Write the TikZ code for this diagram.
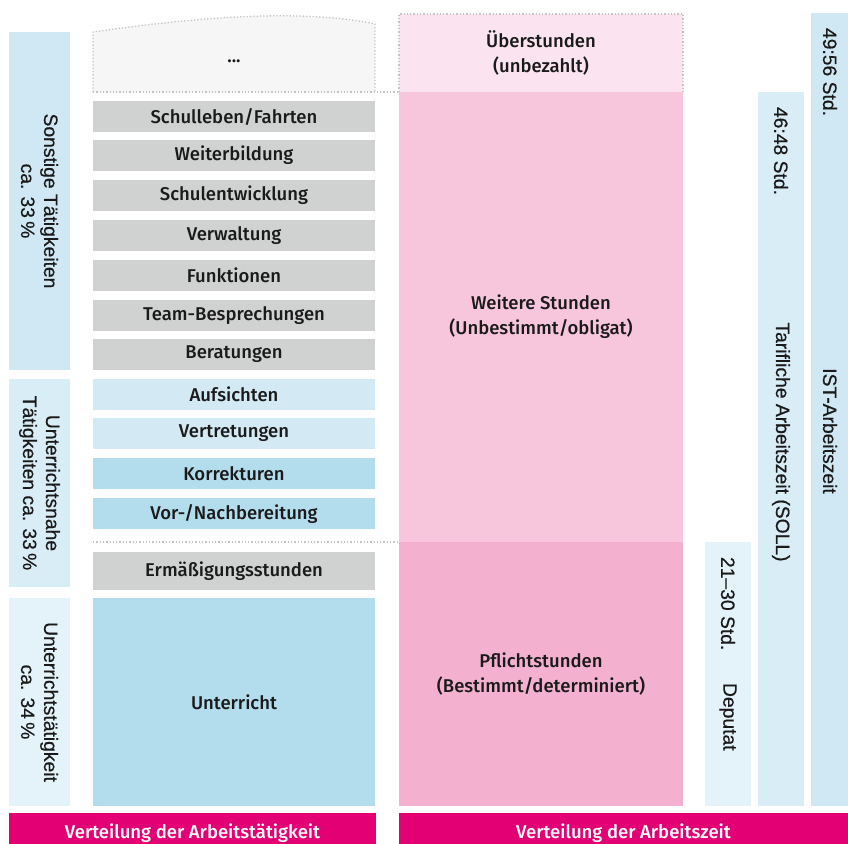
\documentclass[tikz,border=0pt]{standalone}
\usepackage{fontspec}
\setmainfont{Fira Sans Medium}
\newfontfamily\sidefont{Liberation Sans}[FakeBold=0.5]
\usepackage{tikz}

\definecolor{ink}{HTML}{1A1A1A}
\definecolor{actgrey}{HTML}{D0D1D1}
\definecolor{nearblue}{HTML}{D3E9F4}
\definecolor{teachblue}{HTML}{B3DCEC}
\definecolor{lblA}{HTML}{D0E8F3}
\definecolor{lblB}{HTML}{D9EDF7}
\definecolor{lblC}{HTML}{E4F2F9}
\definecolor{overpink}{HTML}{FBE4EF}
\definecolor{extrapink}{HTML}{F8C6DC}
\definecolor{dutypink}{HTML}{F3B1CF}
\definecolor{magenta}{HTML}{E20074}
\definecolor{dotgrey}{HTML}{C4C4C4}
\definecolor{ghost}{HTML}{F6F6F6}

\begin{document}
\begin{tikzpicture}[x=1pt,y=-1pt,
  every node/.style={inner sep=0pt,outer sep=0pt,text=ink,align=center,
    font=\fontsize{18.5}{25}\selectfont},
  act/.style={fill=actgrey,minimum width=282pt,minimum height=31pt},
  near/.style={act,fill=nearblue},
  teach/.style={act,fill=teachblue},
  sidelbl/.style={rotate=-90,font=\sidefont\fontsize{19.3}{23}\selectfont},
  colbox/.style={sidelbl,minimum height=61pt},
  timebar/.style={rotate=-90,minimum height=46pt},
  pinkbox/.style={minimum width=284pt},
  footer/.style={fill=magenta,text=white,minimum height=40pt},
  dots/.style={draw=dotgrey,line width=1.3pt,dash pattern=on 1.3pt off 2pt}]
\useasboundingbox (0,0) rectangle (848,843);

% left labels
\node[colbox,fill=lblA,minimum width=338pt] (other) at (39.5,201) {Sonstige T\"atigkeiten\\ca. 33\,\%};
\node[colbox,fill=lblB,minimum width=208pt] (near) at (39.5,483) {Unterrichtsnahe\\T\"atigkeiten ca. 33\,\%};
\node[colbox,fill=lblC,minimum width=208pt] (teach) at (39.5,702) {Unterrichtst\"atigkeit\\ca. 34\,\%};

% activities
\draw[dots,fill=ghost] (93,92) -- (93,32) .. controls (190,18) and (300,8) .. (375,24) -- (375,92);
\node (more) at (234,61) {...};
\node[act] (trips) at (234,116.5) {Schulleben/Fahrten};
\node[act] (training) at (234,155.5) {Weiterbildung};
\node[act] (develop) at (234,195.5) {Schulentwicklung};
\node[act] (admin) at (234,235.5) {Verwaltung};
\node[act] (roles) at (234,275.5) {Funktionen};
\node[act] (meetings) at (234,315.5) {Team-Besprechungen};
\node[act] (advice) at (234,354.5) {Beratungen};
\node[near] (supervise) at (234,394.5) {Aufsichten};
\node[near] (cover) at (234,433.5) {Vertretungen};
\node[teach] (marking) at (234,473.5) {Korrekturen};
\node[teach] (prep) at (234,513.5) {Vor-/Nachbereitung};
\node[act,minimum height=38pt] (reduction) at (234,571) {Erm\"a\ss igungsstunden};
\node[teach,minimum height=208pt] (lessons) at (234,702) {Unterricht};

% hours
\node[pinkbox,fill=overpink,minimum height=78pt] (over) at (541,53) {\"Uberstunden\\(unbezahlt)};
\node[pinkbox,fill=extrapink,minimum height=450pt] (extra) at (541,317) {Weitere Stunden\\(Unbestimmt/obligat)};
\node[pinkbox,fill=dutypink,minimum height=264pt] (duty) at (541,674) {Pflichtstunden\\(Bestimmt/determiniert)};
\draw[dots] (over.south west) -- (over.north west) -- (over.north east) -- (over.south east);
\draw[dots] (93,92) -- (over.south west);
\draw[dots] (93,542) -- (duty.north west);

% time bars
\node[timebar,fill=lblC,minimum width=264pt] (deputy) at (728,674) {};
\node[sidelbl,anchor=west] (deputyhrs) at (728,557) {21–30 Std.};
\node[sidelbl,anchor=west] (deputylbl) at (728,683) {Deputat};
\node[timebar,fill=lblB,minimum width=714pt] (target) at (781,449) {};
\node[sidelbl,anchor=west] (targethrs) at (781,107) {46:48 Std.};
\node[sidelbl] (targetlbl) at (781,442) {Tarifliche Arbeitszeit (SOLL)};
\node[timebar,fill=lblA,minimum width=793pt,minimum height=37pt] (actual) at (829.5,409.5) {};
\node[sidelbl,anchor=west] (actualhrs) at (830,28) {49:56 Std.};
\node[sidelbl] (actuallbl) at (830,431) {IST-Arbeitszeit};

% footers
\node[footer,minimum width=367pt] (workfoot) at (192.5,833) {Verteilung der Arbeitst\"atigkeit};
\node[footer,minimum width=449pt] (timefoot) at (623.5,833) {Verteilung der Arbeitszeit};
\end{tikzpicture}
\end{document}
